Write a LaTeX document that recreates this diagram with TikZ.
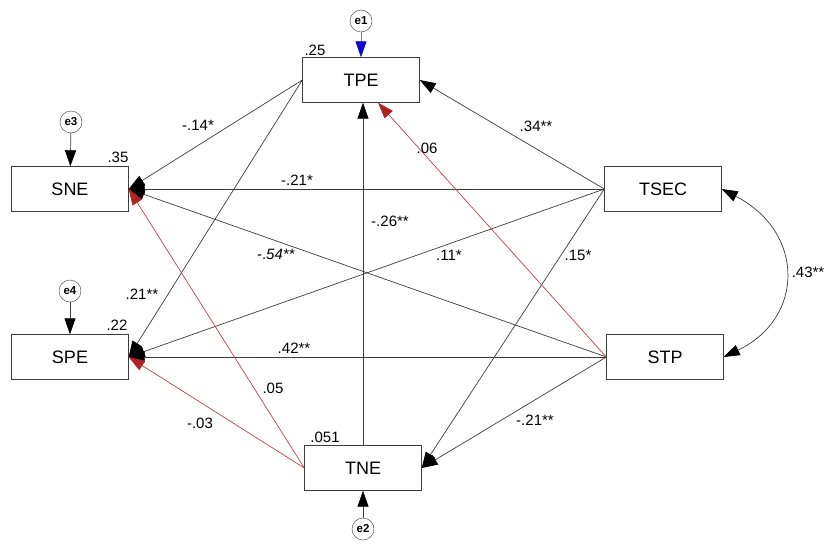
\documentclass[tikz,border=0pt]{standalone}
\usepackage{fontspec}
\setmainfont{Liberation Sans}
\usepackage{xcolor}
\usetikzlibrary{arrows.meta, positioning}
\definecolor{amosline}{RGB}{60,60,60}
\definecolor{amosred}{RGB}{178,34,34}
\definecolor{amosblue}{RGB}{10,10,200}
\tikzset{
    var/.style={rectangle, draw=amosline, fill=white, minimum width=117pt, minimum height=45pt, inner sep=0pt, font=\fontsize{18}{20}\selectfont},
    err/.style={circle, draw=amosline, fill=white, minimum size=22pt, inner sep=0pt, font=\fontsize{11.5}{12}\selectfont\bfseries},
    reg/.style={-{Triangle[length=16pt, width=11pt, color=black]}, draw=amosline, line width=0.7pt},
    regred/.style={-{Triangle[length=16pt, width=11pt, color=amosred]}, draw=amosred!85, line width=0.7pt},
    regblue/.style={-{Triangle[length=16pt, width=11pt, color=amosblue]}, draw=amosblue!55, line width=0.9pt},
    cov/.style={{Triangle[length=16pt, width=11pt, color=black]}-{Triangle[length=16pt, width=11pt, color=black]}, draw=amosline, line width=0.7pt},
    lab/.style={inner sep=1pt, font=\fontsize{15}{16}\selectfont},
}
\begin{document}
\begin{tikzpicture}[x=1pt, y=-1pt]
    \useasboundingbox (0,0) rectangle (826,543);
    % observed variables
    \node[var] (tpe) at (361,80) {TPE};
    \node[var] (sne) at (70,189) {SNE};
    \node[var] (spe) at (70,357) {SPE};
    \node[var] (tne) at (363,468) {TNE};
    \node[var] (tsec) at (663,189) {TSEC};
    \node[var] (stp) at (665,357) {STP};
    % error terms
    \node[err] (e1) at (361,21) {e1};
    \node[err] (e3) at (71,122) {e3};
    \node[err] (e4) at (70,291) {e4};
    \node[err] (e2) at (363,529) {e2};
    \draw[regblue] (e1) -- (tpe);
    \draw[reg] (e3) -- (sne);
    \draw[reg] (e4) -- (spe);
    \draw[reg] (e2) -- (tne);
    % paths from TSEC
    \draw[reg] (tsec.west) -- (tpe.east);
    \draw[reg] (tsec.west) -- (sne.east);
    \draw[reg] (tsec.west) -- (spe.east);
    \draw[reg] (tsec.west) -- (tne.east);
    % paths from STP
    \draw[regred] (stp.west) -- ([xshift=17pt]tpe.south);
    \draw[reg] (stp.west) -- (sne.east);
    \draw[reg] (stp.west) -- (spe.east);
    \draw[reg] (stp.west) -- (tne.east);
    % paths from TPE and TNE
    \draw[reg] (tpe.west) -- (sne.east);
    \draw[reg] (tpe.west) -- (spe.east);
    \draw[reg] (tne.north) -- (tne.north |- tpe.south);
    \draw[regred] (tne.west) -- (sne.east);
    \draw[regred] (tne.west) -- (spe.east);
    % covariance
    \draw[cov] (tsec.east) .. controls (805,232) and (805,318) .. (stp.east);
    % squared multiple correlations
    \node[lab] (r1) at (315,50) {.25};
    \node[lab] (r3) at (118,157) {.35};
    \node[lab] (r4) at (117,325) {.22};
    \node[lab] (r2) at (325,437) {.051};
    % path coefficients
    \node[lab] (w1) at (536,126) {.34**};
    \node[lab] (w2) at (297,180) {-.21*};
    \node[lab] (w3) at (449,255) {.11*};
    \node[lab] (w4) at (578,255) {.15*};
    \node[lab] (w5) at (427,148) {.06};
    \node[lab] (w6) at (276,254) {-.\textit{54**}};
    \node[lab] (w7) at (294,348) {.42**};
    \node[lab] (w8) at (535,420) {-.21**};
    \node[lab] (w9) at (198,125) {-.14*};
    \node[lab] (w10) at (142,294) {.21**};
    \node[lab] (w11) at (390,221) {-.26**};
    \node[lab] (w12) at (273,388) {.05};
    \node[lab] (w13) at (200,423) {-.03};
    \node[lab] (w14) at (808,272) {.43**};
\end{tikzpicture}
\end{document}
